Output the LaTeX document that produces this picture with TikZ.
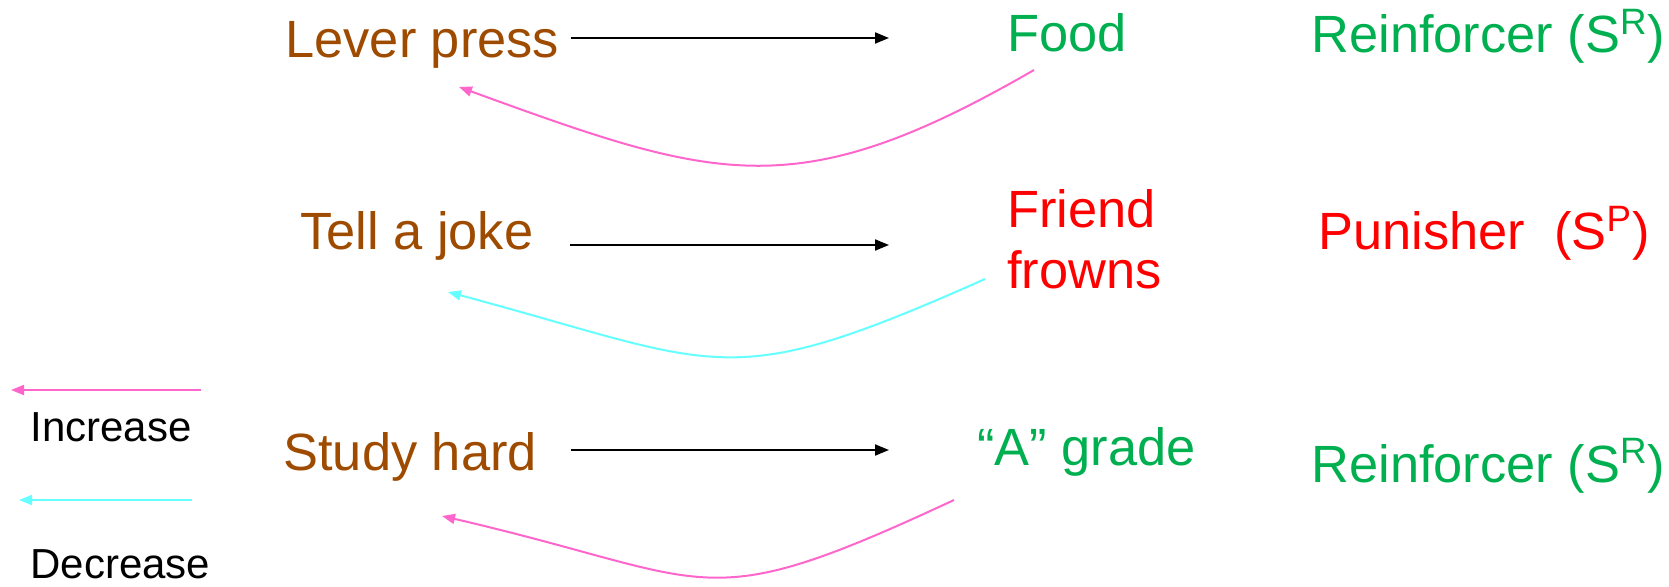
\documentclass[tikz,border=0pt]{standalone}
\usepackage{fontspec}
\setmainfont{Liberation Sans}
\usetikzlibrary{arrows.meta,calc}
\definecolor{cBrown}{HTML}{9E4B00}
\definecolor{cGreen}{HTML}{00B050}
\definecolor{cRed}{HTML}{FF0000}
\definecolor{cPink}{HTML}{FF66CC}
\definecolor{cCyan}{HTML}{66FFFF}

\begin{document}
\begin{tikzpicture}[x=0.5pt, y=-0.5pt,
  every node/.style={inner sep=0pt, anchor=base west},
  act/.style={text=cBrown, font=\fontsize{26.2}{30.5}\selectfont},
  good/.style={text=cGreen, font=\fontsize{26.2}{30.5}\selectfont},
  bad/.style={text=cRed, font=\fontsize{26.2}{30.5}\selectfont, align=left},
  key/.style={text=black, font=\fontsize{21}{25}\selectfont},
  cause/.style={-{Triangle[length=7pt,width=5.5pt]}, line width=1pt, color=black},
  up/.style={-{Triangle[length=6.5pt,width=5pt]}, line width=1pt, color=cPink},
  down/.style={-{Triangle[length=6.5pt,width=5pt]}, line width=1pt, color=cCyan}]
  \useasboundingbox (0,0) rectangle (1669,587);

  % behaviours
  \node[act] (lever) at (285,58) {Lever press};
  \node[act] (joke)  at (300,250) {Tell a joke};
  \node[act] (study) at (283,470) {Study hard};

  % consequences
  \node[good] (food)   at (1007,52) {Food};
  \node[bad]  (friend) at (1007,289) {Friend\\frowns};
  \node[good] (grade)  at (977,465) {“A” grade};

  % kind of stimulus
  \node[good] (kind1) at (1311,53) {Reinforcer (S\textsuperscript{R})};
  \node[bad]  (kind2) at (1318,250) {Punisher\ \ (S\textsuperscript{P})};
  \node[good] (kind3) at (1311,482) {Reinforcer (S\textsuperscript{R})};

  % legend
  \node[key] (incr) at (30,441) {Increase};
  \node[key] (decr) at (30,578) {Decrease};
  \draw[up] (201,390) -- (11,390);
  \draw[down] (192,500) -- (19,500);

  \coordinate (r1) at (0,38);
  \coordinate (r2) at (0,245);
  \coordinate (r3) at (0,450);

  \draw[cause, shorten <=5.5pt, shorten >=59pt] (lever.east |- r1) -- (food.west |- r1);
  \draw[cause, shorten <=18pt, shorten >=59pt] (joke.east |- r2) -- (friend.west |- r2);
  \draw[cause, shorten <=17pt, shorten >=44pt] (study.east |- r3) -- (grade.west |- r3);

  \draw[up] ($(food.base west)+(27,18)$) to[out=210, in=-20, looseness=1.22]
    ($(lever.base west)+(174,29)$);
  \draw[down] ($(friend.base west)+(-22,-10)$) to[out=204, in=-15, looseness=1.36]
    ($(joke.base west)+(148,42)$);
  \draw[up] ($(grade.base west)+(-23,35)$) to[out=205, in=-13, looseness=1.42]
    ($(study.base west)+(159,46)$);
\end{tikzpicture}
\end{document}
